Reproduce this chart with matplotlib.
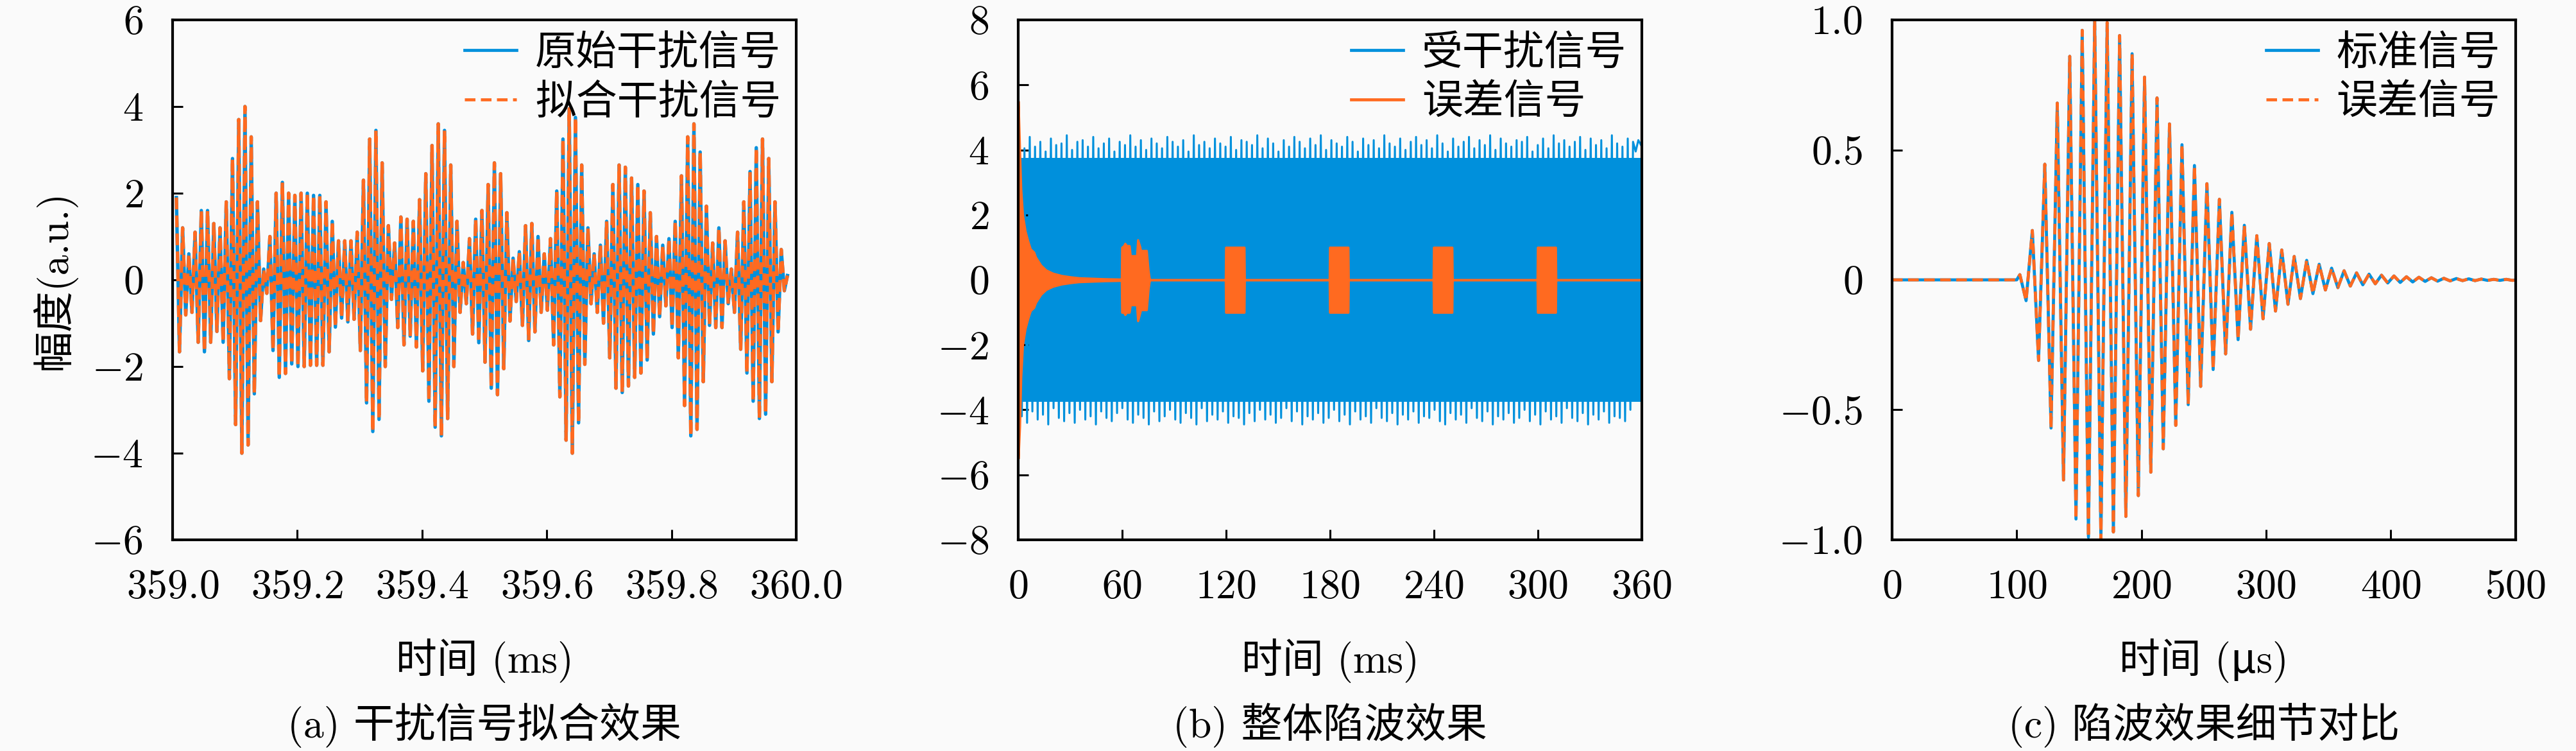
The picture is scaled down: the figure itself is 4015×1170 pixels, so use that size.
import numpy as np
import matplotlib.pyplot as plt
from matplotlib.lines import Line2D
from matplotlib.ticker import FuncFormatter
plt.switch_backend('Agg')

plt.rcParams['font.family'] = ['cmr10', 'Noto Sans CJK SC']
plt.rcParams['mathtext.fontset'] = 'cm'
plt.rcParams['axes.formatter.use_mathtext'] = True
plt.rcParams['font.size'] = 46

BLUE = '#0090dc'
ORANGE = '#ff6a20'
BG = '#fafafa'

# (a) interference fit, 359-360 ms: successive peak / trough values of the waveform
a_upper = [1.9, 1.2, 0.6, 1.1, 1.6, 1.6, 1.3, 1.2, 1.8, 2.8, 3.7, 4.0, 3.3, 1.8, 0.25, 1.0, 2.0,
           2.25, 2.0, 1.95, 2.0, 2.0, 1.95, 1.95, 1.8, 1.35, 0.9, 0.9, 0.9, 1.1, 2.3, 3.25, 3.45, 2.7,
           1.25, 0.85, 1.45, 1.4, 1.35, 1.85, 2.45, 3.1, 3.6, 3.45, 2.65, 1.35, 0.4, 0.95, 1.4, 1.6,
           2.2, 2.7, 2.45, 1.55, 0.5, 0.65, 1.25, 1.3, 1.0, 0.6, 0.95, 2.05, 3.25, 3.95, 3.75, 2.65, 1.2,
           0.6, 0.8, 1.35, 2.2, 2.65, 2.6, 2.35, 2.2, 2.05, 1.55, 1.0, 0.8, 0.95, 1.35, 2.4, 3.3, 3.6,
           2.95, 1.7, 0.85, 1.2, 0.9, 0.25, 1.1, 1.8, 2.5, 3.05, 3.25, 2.8, 1.8, 0.7, 0.1]
a_lower = [-1.66, -0.81, -0.75, -1.44, -1.66, -1.44, -1.19, -1.44, -2.28, -3.34, -4.0, -3.81, -2.63,
           -0.94, -0.31, -1.63, -2.25, -2.16, -1.94, -2.0, -2.0, -1.97, -1.97, -1.97, -1.66, -1.09,
           -0.88, -0.97, -0.91, -1.63, -2.84, -3.5, -3.22, -2.0,
           -0.45, -1.1, -1.5, -1.3, -1.55, -2.1, -2.8, -3.4, -3.6, -3.2, -2.0, -0.75, -0.55, -1.25,
           -1.45, -1.9, -2.5, -2.65, -2.05, -0.95, -0.5, -1.05, -1.4, -1.2, -0.75, -0.7, -1.5, -2.7,
           -3.7, -4.0, -3.3, -1.95, -0.55,
           -0.75, -1.0, -1.8, -2.5, -2.6, -2.45, -2.25, -2.15, -1.85, -1.25, -0.85, -0.6, -1.1, -1.8,
           -2.9, -3.6, -3.45, -2.35, -1.05, -1.1, -1.1, -0.55, -0.75, -1.6, -2.15, -2.8, -3.2, -3.1,
           -2.35, -1.2, -0.25]
a_span = (359.006, 359.986)

# (b) whole record, 0-360 ms
b_core_t = [0, 360]
b_core = [3.75, 3.75]
b_upper = [4.30, 4.05, 4.40, 4.10, 4.25, 3.95, 4.35, 4.15, 4.20, 4.45, 4.00, 4.25, 4.30, 4.10, 4.40,
           4.05, 4.20, 4.35, 3.95, 4.25, 4.15, 4.45, 4.10, 4.30, 4.00, 4.35, 4.20, 4.05, 4.40, 4.25,
           4.10, 4.30, 3.95, 4.45, 4.15, 4.25, 4.05, 4.35, 4.20, 4.10, 4.40, 4.00, 4.30, 4.25, 4.15,
           4.45, 4.05, 4.35, 4.20, 3.95, 4.30, 4.10, 4.40, 4.25, 4.05, 4.35, 4.15, 4.45, 4.00, 4.30,
           4.20, 4.10, 4.40, 4.25, 3.95, 4.35, 4.15, 4.30, 4.05, 4.45, 4.20, 4.10, 4.35, 4.00, 4.25,
           4.40, 4.15, 4.30, 4.05, 4.45, 4.20, 3.95, 4.35, 4.10, 4.25, 4.40, 4.05, 4.30, 4.15, 4.45,
           4.00, 4.35, 4.20, 4.10, 4.30, 4.25, 4.40, 3.95, 4.15, 4.35, 4.05, 4.45, 4.20, 4.30, 4.10,
           4.25, 4.40, 4.00, 4.35, 4.15, 4.30, 4.05, 4.45, 4.20, 4.10, 4.35, 4.25, 3.95, 4.30, 4.15]
b_lower = [-4.20, -4.40, -4.05, -4.30, -4.15, -4.45, -3.95, -4.25, -4.35, -4.10, -4.40, -4.00, -4.30,
           -4.20, -4.45, -4.05, -4.25, -4.35, -4.10, -3.95, -4.30, -4.40, -4.15, -4.25, -4.45, -4.05,
           -4.35, -4.20, -4.00, -4.30, -4.40, -4.10, -4.25, -4.45, -3.95, -4.35, -4.15, -4.30, -4.05,
           -4.40, -4.20, -4.25, -4.45, -4.10, -4.35, -4.00, -4.30, -4.15, -4.40, -4.25, -3.95, -4.35,
           -4.05, -4.45, -4.20, -4.30, -4.10, -4.40, -4.25, -4.00, -4.35, -4.15, -4.45, -4.05, -4.30,
           -4.20, -4.40, -3.95, -4.25, -4.35, -4.10, -4.45, -4.15, -4.30, -4.05, -4.40, -4.20, -4.25,
           -4.00, -4.35, -4.45, -4.10, -4.30, -4.15, -4.40, -3.95, -4.25, -4.35, -4.05, -4.45, -4.20,
           -4.30, -4.10, -4.40, -4.25, -4.00, -4.35, -4.15, -4.45, -4.05, -4.30, -4.20, -4.40, -3.95,
           -4.25, -4.35, -4.10, -4.45, -4.15, -4.30, -4.05, -4.40, -4.20, -4.25, -4.35, -4.00]
b_span = (0.5, 359.5)
# error signal envelope (ms, upper, lower)
err_t = [0, 0.8, 1.5, 2.5, 4.0, 5.5, 7, 9, 10, 13, 16, 20, 25, 30, 35, 40, 50, 59.6,
         59.8, 61.0, 61.6, 62.5, 64.1, 64.7, 68.4, 69.0, 70.3, 70.6, 74.0, 75.0, 75.8,
         119.6, 119.8, 130.4, 130.6,
         179.6, 179.8, 190.4, 190.6,
         239.6, 239.8, 250.4, 250.6,
         299.6, 299.8, 310.2, 310.4, 360]
err_hi = [5.5, 4.0, 2.8, 2.0, 1.5, 1.2, 0.95, 0.85, 0.7, 0.45, 0.3, 0.2, 0.13, 0.09, 0.06, 0.05,
          0.03, 0.02,
          1.0, 1.05, 1.12, 1.05, 1.05, 0.74, 0.74, 1.23, 1.0, 0.9, 0.9, 0.3, 0.0,
          0.0, 1.0, 1.0, 0.0,
          0.0, 1.0, 1.0, 0.0,
          0.0, 1.0, 1.0, 0.0,
          0.0, 1.0, 1.0, 0.0, 0.0]
err_lo = [-5.5, -4.5, -3.0, -2.0, -1.5, -1.2, -0.95, -0.85, -0.7, -0.45, -0.3, -0.2, -0.13, -0.09,
          -0.06, -0.05, -0.03, -0.02,
          -1.0, -1.0, -1.07, -1.0, -1.0, -0.77, -0.77, -1.26, -1.0, -0.92, -0.92, -0.3, 0.0,
          0.0, -1.0, -1.0, 0.0,
          0.0, -1.0, -1.0, 0.0,
          0.0, -1.0, -1.0, 0.0,
          0.0, -1.0, -1.0, 0.0, 0.0]

# (c) detail, 0-500 us
c_quiet_t = [0, 100]
c_upper = [0.02, 0.19, 0.445, 0.68, 0.86, 0.96, 1.0, 0.99, 0.94, 0.87, 0.78, 0.70, 0.60, 0.52, 0.44,
           0.37, 0.31, 0.26, 0.21, 0.17, 0.14, 0.115, 0.09, 0.075, 0.06, 0.045, 0.035, 0.027, 0.022,
           0.018, 0.015, 0.012, 0.01, 0.008, 0.006, 0.005, 0.004, 0.003, 0.002, 0.002]
c_lower = [-0.08, -0.31, -0.57, -0.77, -0.92, -0.99, -1.0, -0.97, -0.91, -0.83, -0.74, -0.65, -0.56,
           -0.48, -0.41, -0.345, -0.285, -0.23, -0.19, -0.15, -0.12, -0.094, -0.072, -0.053, -0.039,
           -0.03, -0.024, -0.019, -0.015, -0.012, -0.01, -0.008, -0.006, -0.005, -0.004, -0.003,
           -0.003, -0.002, -0.002, -0.002]
c_span = (102.5, 497.5)

LW = 3.4
DASH = (3.5, 1.8)


def zigzag(upper, lower, span):
    n = min(len(upper), len(lower))
    vals = list(np.ravel(np.column_stack([upper[:n], lower[:n]]))) + list(upper[n:])
    return np.linspace(span[0], span[1], len(vals)), np.array(vals)


def style(ax, xlim, ylim, xticks, yticks, xfmt, yfmt):
    ax.set_facecolor(BG)
    ax.set_xlim(*xlim)
    ax.set_ylim(*ylim)
    ax.set_xticks(xticks)
    ax.set_yticks(yticks)
    ax.xaxis.set_major_formatter(FuncFormatter(xfmt))
    ax.yaxis.set_major_formatter(FuncFormatter(yfmt))
    ax.tick_params(direction='in', length=11.5, width=2.2, pad=33, labelsize=46,
                   top=False, right=False)
    for s in ax.spines.values():
        s.set_linewidth(3.0)
        s.set_zorder(5)


def legend(ax, handles, labels):
    ax.legend(handles, labels, loc='upper right', frameon=False, fontsize=46,
              handlelength=1.27, handletextpad=0.45, labelspacing=0.28,
              borderaxespad=0.27, borderpad=0.1)


fig = plt.figure(figsize=(40.16, 11.70), dpi=100, facecolor=BG)
ax_a = fig.add_axes([0.0670, 0.2812, 0.2420, 0.6923])
ax_b = fig.add_axes([0.3952, 0.2812, 0.2420, 0.6923])
ax_c = fig.add_axes([0.7343, 0.2812, 0.2420, 0.6923])

int_fmt = lambda v, _: '$%d$' % round(v)

# (a)
t, v = zigzag(a_upper, a_lower, a_span)
ax_a.plot(t, v, color=BLUE, lw=3.8)
ax_a.plot(t, v, color=ORANGE, lw=3.8, dashes=DASH)
style(ax_a, (359.0, 360.0), (-6, 6), np.linspace(359.0, 360.0, 6), range(-6, 7, 2),
      lambda x, _: '$%.1f$' % x, int_fmt)
legend(ax_a, [Line2D([], [], color=BLUE, lw=LW), Line2D([], [], color=ORANGE, lw=LW, dashes=DASH)],
       ['原始干扰信号', '拟合干扰信号'])
ax_a.set_xlabel('时间 (ms)')
ax_a.set_ylabel('幅度(a.u.)')

# (b)
ax_b.fill_between(b_core_t, [-c for c in b_core], b_core, color=BLUE, lw=0, zorder=1)
t, v = zigzag(b_upper, b_lower, b_span)
ax_b.plot(t, v, color=BLUE, lw=2.2, zorder=2)
ax_b.fill_between(err_t, err_lo, err_hi, color=ORANGE, lw=2.5, edgecolor=ORANGE, zorder=3)
style(ax_b, (0, 360), (-8, 8), range(0, 361, 60), range(-8, 9, 2), int_fmt, int_fmt)
legend(ax_b, [Line2D([], [], color=BLUE, lw=LW), Line2D([], [], color=ORANGE, lw=LW)],
       ['受干扰信号', '误差信号'])
ax_b.set_xlabel('时间 (ms)')

# (c)
t, v = zigzag(c_upper, c_lower, c_span)
t = np.concatenate([c_quiet_t, t, [500]])
v = np.concatenate([[0, 0], v, [0]])
ax_c.plot(t, v, color=BLUE, lw=LW)
ax_c.plot(t, v, color=ORANGE, lw=LW, dashes=DASH)
style(ax_c, (0, 500), (-1, 1), range(0, 501, 100), [-1.0, -0.5, 0, 0.5, 1.0], int_fmt,
      lambda x, _: '$0$' if abs(x) < 1e-9 else '$%.1f$' % x)
legend(ax_c, [Line2D([], [], color=BLUE, lw=LW), Line2D([], [], color=ORANGE, lw=LW, dashes=DASH)],
       ['标准信号', '误差信号'])
ax_c.set_xlabel('时间 (\u03bcs)')

for ax in (ax_a, ax_b, ax_c):
    ax.xaxis.label.set_va('center')
    ax.xaxis.set_label_coords(0.5, -0.232)
ax_a.yaxis.label.set_va('center')
ax_a.yaxis.set_label_coords(-0.191, 0.5)

captions = ['(a) 干扰信号拟合效果', '(b) 整体陷波效果', '(c) 陷波效果细节对比']
for ax, cap in zip((ax_a, ax_b, ax_c), captions):
    box = ax.get_position()
    fig.text(box.x0 + box.width / 2, 0.034, cap, ha='center', va='center', fontsize=46)

fig.savefig('out.png', dpi=100, facecolor=BG)
